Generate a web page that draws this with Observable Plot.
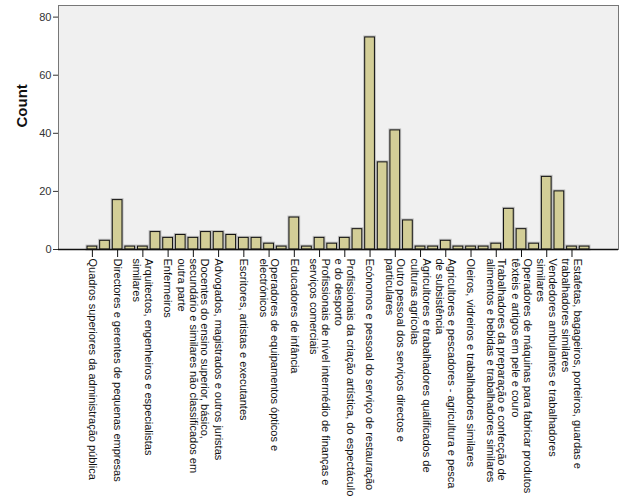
<!DOCTYPE html>
<html>
<head>
<meta charset="utf-8">
<script src="https://cdn.jsdelivr.net/npm/d3@7"></script>
<script src="https://cdn.jsdelivr.net/npm/@observablehq/plot@0.6"></script>
<style>
  html, body { margin: 0; padding: 0; background: #ffffff; }
  #chart { width: 626px; height: 501px; }
</style>
</head>
<body>
<div id="chart"></div>
<script>
// Categories (odd positions carry visible labels; even positions are unlabeled in the reference)
const categories = [
  "Quadros superiores da administração pública", "(sem rótulo 2)",
  "Directores e gerentes de pequenas empresas", "(sem rótulo 4)",
  "Arquitectos, engenheiros e especialistas\nsimilares", "(sem rótulo 6)",
  "Enfermeiros", "(sem rótulo 8)",
  "Docentes do ensino superior, básico,\nsecundário e similares não classificados em\noutra parte", "(sem rótulo 10)",
  "Advogados, magistrados e outros juristas", "(sem rótulo 12)",
  "Escritores, artistas e executantes", "(sem rótulo 14)",
  "Operadores de equipamentos ópticos e\nelectrónicos", "(sem rótulo 16)",
  "Educadores de infância", "(sem rótulo 18)",
  "Profissionais de nível intermédio de finanças e\nserviços comerciais", "(sem rótulo 20)",
  "Profissionais da criação artística, do espectáculo\ne do desporto", "(sem rótulo 22)",
  "Ecónomos e pessoal do serviço de restauração", "(sem rótulo 24)",
  "Outro pessoal dos serviços directos e\nparticulares", "(sem rótulo 26)",
  "Agricultores e trabalhadores qualificados de\nculturas agrícolas", "(sem rótulo 28)",
  "Agricultores e pescadores - agricultura e pesca\nde subsistência", "(sem rótulo 30)",
  "Oleiros, vidreiros e trabalhadores similares", "(sem rótulo 32)",
  "Trabalhadores da preparação e confecção de\nalimentos e bebidas e trabalhadores similares", "(sem rótulo 34)",
  "Operadores de máquinas para fabricar produtos\ntêxteis e artigos em pele e couro", "(sem rótulo 36)",
  "Vendedores ambulantes e trabalhadores\nsimilares", "(sem rótulo 38)",
  "Estafetas, bagageiros, porteiros, guardas e\ntrabalhadores similares", "(sem rótulo 40)"
];
const counts = [
  1, 3, 17, 1, 1, 6, 4, 5, 4, 6,
  6, 5, 4, 4, 2, 1, 11, 1, 4, 2,
  4, 7, 73, 30, 41, 10, 1, 1, 3, 1,
  1, 1, 2, 14, 7, 2, 25, 20, 1, 1
];
const yTicks = [0, 20, 40, 60, 80];
const yLabel = "Count";

const data = categories.map((c, i) => ({category: c, count: counts[i]}));
const labeled = categories.filter((c, i) => i % 2 === 0);

const chart = Plot.plot({
  width: 626,
  height: 501,
  marginLeft: 58,
  marginRight: 8,
  marginTop: 5,
  marginBottom: 252,
  style: {fontFamily: "'Liberation Sans', Arial, sans-serif", background: "#ffffff"},
  x: {domain: categories, paddingInner: 0.23, paddingOuter: 2.3, round: false, axis: null},
  y: {domain: [0, 84], axis: null},
  marks: [
    Plot.frame({fill: "#f0f0f0", stroke: "#777777"}),
    // bar shadow halo
    Plot.barY(data, {x: "category", y: "count", fill: "none", stroke: "#a8a8a8", strokeWidth: 3, strokeOpacity: 0.7}),
    Plot.barY(data, {x: "category", y: "count", fill: "#d3ce97", stroke: "#111111", strokeWidth: 1}),
    // axes lines
    Plot.ruleY([0], {stroke: "#111111", strokeWidth: 1.5}),
    Plot.ruleX([0], {frameAnchor: "left", stroke: "#333333"}),
    // y ticks and labels
    Plot.axisY({ticks: yTicks, tickSize: 5, tickPadding: 2, fontSize: 11, color: "#333333", label: null, stroke: "#333333"}),
    Plot.text([yLabel], {frameAnchor: "left", dx: -36, rotate: -90, fontSize: 15, fontWeight: "bold", fill: "#111111"}),
    // x ticks and labels
    Plot.axisX({ticks: labeled, tickSize: 8, tickFormat: () => "", stroke: "#111111", label: null}),
    Plot.text(labeled, {x: d => d, frameAnchor: "bottom", dy: 9, rotate: 90, textAnchor: "start", lineAnchor: "middle", lineHeight: 1.06, fontSize: 11, fill: "#111111"})
  ]
});
document.getElementById("chart").appendChild(chart);
</script>
</body>
</html>
